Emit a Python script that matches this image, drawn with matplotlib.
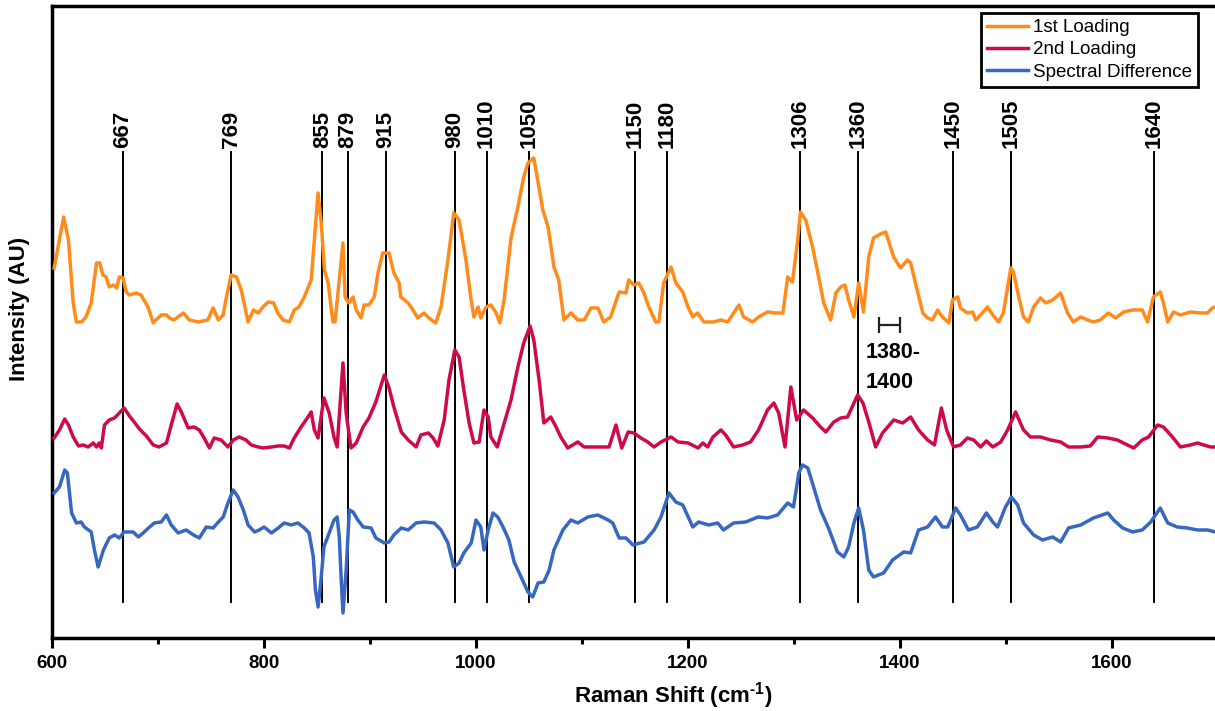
import numpy as np
import matplotlib
matplotlib.use("Agg")
import matplotlib.pyplot as plt
from matplotlib.ticker import MultipleLocator

plt.rcParams['font.family'] = ['Liberation Sans', 'DejaVu Sans']
plt.rcParams['mathtext.fontset'] = 'custom'
plt.rcParams['mathtext.bf'] = 'Liberation Sans:bold'
plt.rcParams['mathtext.rm'] = 'Liberation Sans:bold'

# (Raman shift in cm-1, intensity in a.u. above its own baseline)
first_loading = [
    (602, 54), (611, 105), (615.5, 82), (620, 19), (623, 0), (628, 0), (632, 5), (637, 19),
    (642, 59), (645, 59), (648, 47), (651, 45), (654, 35), (658, 37), (661, 34), (663.5, 45),
    (667, 44), (670, 30), (673, 27), (679.5, 29), (684, 27), (691, 14), (695.5, -1), (698, 2),
    (703, 7), (708, 7), (711, 4), (715, 2), (724, 9), (729.5, 2), (738, 0), (747, 2),
    (752, 14), (757, 2), (761.5, 7), (764, 22), (769, 47), (774, 45), (778.5, 32), (785, 0),
    (790, 12), (794.5, 9), (799, 15), (804, 20), (809, 19), (813, 9), (818, 2), (824, 0),
    (828.5, 12), (833, 15), (838, 25), (844.5, 42), (847.5, 82), (851, 129), (854, 99), (857, 52),
    (860.5, 39), (865, 0), (867, 0), (870, 32), (874.5, 79), (876.5, 25), (880, 19), (884, 25),
    (887, 12), (891.5, 4), (894.5, 17), (899, 17), (904, 25), (907.5, 49), (912, 69), (918, 69),
    (922.5, 49), (927.5, 39), (929, 25), (936, 19), (940.5, 12), (945, 4), (951, 9), (955.5, 4),
    (962, -1), (967, 15), (973.5, 62), (979, 109), (984, 102), (990.5, 62), (995, 25), (998, 5),
    (1002, 15), (1004.5, 4), (1009.5, 15), (1014, 17), (1019, 9), (1022.5, -1), (1026.5, 22),
    (1033, 84), (1039.5, 115), (1045, 145), (1049, 159), (1054.5, 164), (1058.5, 140),
    (1063, 112), (1068, 95), (1073.5, 55), (1078, 42), (1083, 2), (1089.5, 9), (1096, 2),
    (1102, 2), (1108.5, 14), (1115, 14), (1120.5, 0), (1127, 5), (1135, 30), (1141.5, 29),
    (1144, 42), (1149, 37), (1153.5, 39), (1158, 30), (1163, 15), (1169.5, 0), (1172.5, 0),
    (1177, 39), (1184, 55), (1188.5, 39), (1195, 30), (1200, 15), (1204.5, 5), (1209, 9),
    (1215, 0), (1224, 0), (1231, 2), (1237.5, 0), (1243, 9), (1248, 17), (1252.5, 5),
    (1261, 0), (1266.5, 5), (1275, 10), (1282.5, 9), (1289.5, 9), (1294, 45), (1298.5, 40),
    (1303.5, 82), (1306, 110), (1311, 102), (1317.5, 75), (1322.5, 49), (1328, 19),
    (1334.5, 2), (1339.5, 29), (1344, 35), (1348, 37), (1351.5, 22), (1356.5, 5), (1361, 39),
    (1365.5, 10), (1370.5, 65), (1375, 84), (1381.5, 88), (1386.5, 90), (1394, 65),
    (1400.5, 54), (1407, 62), (1410, 59), (1414.5, 39), (1421.5, 9), (1426, 4), (1430.5, 2),
    (1435.5, 12), (1440, 5), (1446, -1), (1449.5, 22), (1454.5, 25), (1457, 14), (1463.5, 9),
    (1468.5, 10), (1471.5, 2), (1476, 7), (1482.5, 15), (1487.5, 7), (1493, 0), (1497.5, 9),
    (1504.5, 54), (1507, 50), (1512, 25), (1516.5, 5), (1521, 0), (1526, 15), (1532.5, 24),
    (1537.5, 19), (1544, 22), (1551.5, 29), (1558, 9), (1563.5, 0), (1570.5, 5), (1577, 2),
    (1582.5, 0), (1589, 2), (1596.5, 9), (1603.5, 4), (1611, 10), (1619.5, 12), (1628.5, 12),
    (1633.5, 0), (1639, 25), (1645.5, 30), (1648.5, 19), (1652.5, 0), (1658, 10), (1664.5, 7),
    (1674, 10), (1683.5, 9), (1690, 9), (1694.5, 14), (1697.5, 15),
]

second_loading = [
    (602, 10), (607, 18), (612, 29), (615.5, 23), (620, 11), (625, 2), (629.5, 3), (634, 1),
    (639, 5), (642, 1), (644.5, 5), (646.5, 0), (649.5, 23), (654, 28), (659, 30), (663.5, 35),
    (668, 40), (673, 32), (677.5, 26), (682.5, 19), (689, 12), (695.5, 3), (701, 1), (708, 5),
    (712.5, 23), (718, 44), (722, 36), (728.5, 20), (734, 21), (739, 18), (743.5, 10),
    (748.5, 0), (753, 10), (759.5, 8), (766, 1), (771, 8), (776.5, 11), (783, 8), (788, 3),
    (794.5, 1), (799, 0), (807, 1), (813.5, 2), (819, 2), (824, 0), (828.5, 10), (835, 21),
    (841.5, 31), (844.5, 36), (847.5, 18), (851, 10), (856.5, 50), (861.5, 35), (866, 11),
    (869, 1), (874.5, 85), (877.5, 35), (882, 0), (887, 5), (893.5, 21), (899, 30), (905.5, 46),
    (913.5, 73), (918, 60), (922.5, 41), (929.5, 16), (936, 8), (943.5, 1), (948, 13),
    (955, 15), (959.5, 10), (964, 2), (970, 28), (974.5, 68), (980, 98), (984, 91), (988.5, 58),
    (993.5, 25), (998, 5), (1003, 6), (1007.5, 38), (1011.5, 31), (1014, 11), (1020, 1),
    (1025.5, 21), (1033, 48), (1039.5, 81), (1045, 105), (1051, 122), (1054.5, 108),
    (1059.5, 68), (1064, 25), (1070.5, 31), (1075.5, 21), (1080, 11), (1086.5, 0), (1096, 6),
    (1102, 1), (1111, 1), (1118, 1), (1125.5, 1), (1132, 23), (1137.5, 0), (1143.5, 16),
    (1149, 15), (1155.5, 10), (1162, 6), (1168, 1), (1174.5, 6), (1184, 11), (1190.5, 6),
    (1200, 5), (1209.5, 0), (1214, 5), (1218.5, 1), (1223.5, 11), (1231, 18), (1235.5, 13),
    (1243, 1), (1251.5, 3), (1259, 6), (1266.5, 18), (1275, 38), (1281, 45), (1285.5, 35),
    (1291.5, 1), (1297, 61), (1302.5, 28), (1309, 38), (1317.5, 30), (1325, 21), (1330, 16),
    (1337.5, 26), (1344, 30), (1350.5, 31), (1360, 53), (1365, 45), (1370.5, 26), (1377, 1),
    (1383.5, 15), (1394, 28), (1402.5, 25), (1410, 31), (1417.5, 18), (1426, 8), (1432.5, 3),
    (1439, 40), (1444, 18), (1450.5, 1), (1457, 3), (1463.5, 10), (1469.5, 8), (1476, 1),
    (1481.5, 7), (1487.5, 1), (1495, 6), (1501.5, 18), (1509, 36), (1516.5, 18), (1523, 11),
    (1532.5, 11), (1542, 8), (1551.5, 6), (1559, 1), (1570.5, 1), (1579.5, 2), (1586.5, 11),
    (1596, 10), (1605, 8), (1614.5, 3), (1620.5, 0), (1628.5, 8), (1634.5, 11), (1643, 23),
    (1648.5, 21), (1657, 11), (1664.5, 1), (1674, 3), (1680.5, 5), (1686.5, 3), (1693, 1),
    (1697.5, 1),
]

spectral_difference = [
    (602, 37), (607, 43), (612, 60), (614.5, 57), (618.5, 17), (623, 7), (627.5, 8),
    (630.5, 3), (637, -2), (640, -20), (643.5, -37), (648.5, -20), (654, -8), (659, -5),
    (663.5, -8), (668, -2), (676.5, -2), (681.5, -7), (686, -3), (691, 2), (696.5, 7), (703, 8),
    (708, 15), (712.5, 5), (719, -3), (726.5, 0), (733.5, -5), (739, -8), (745.5, 3), (752, 2),
    (757, 8), (761.5, 13), (766, 27), (771, 40), (775.5, 33), (780.5, 20), (785, 5),
    (791, -2), (795.5, 0), (800, 3), (807, -3), (813.5, 2), (819, 7), (825.5, 5), (832, 7),
    (838, 2), (842.5, -3), (846.5, -27), (848.5, -60), (851, -77), (854, -47), (856.5, -17),
    (861.5, -3), (866, 10), (869, 13), (871, -7), (873, -53), (874.5, -83), (877.5, -40),
    (880.5, 20), (884, 18), (888.5, 10), (893.5, 3), (901, 2), (905.5, -8), (913.5, -13),
    (918, -12), (922.5, -5), (929.5, 2), (936, 0), (943.5, 7), (951, 8), (960.5, 7), (967, 0),
    (973.5, -13), (979, -37), (984, -33), (988.5, -23), (995.5, -13), (1000, 10), (1004.5, 3),
    (1007.5, -20), (1011.5, 0), (1016, 17), (1020.5, 13), (1025.5, 3), (1031, -10),
    (1036, -32), (1042.5, -47), (1049, -62), (1053.5, -67), (1058.5, -53), (1064, -52),
    (1069, -40), (1073.5, -20), (1082, 0), (1089.5, 10), (1096, 7), (1105.5, 13), (1115, 15),
    (1124.5, 10), (1129, 7), (1135, -8), (1141.5, -8), (1148, -15), (1158.5, -12), (1168, 0),
    (1174.5, 13), (1182, 37), (1188.5, 28), (1195, 25), (1204.5, 3), (1210, 8), (1219.5, 5),
    (1228, 7), (1233.5, 0), (1243, 7), (1254.5, 8), (1266, 13), (1275, 12), (1284.5, 15),
    (1294, 27), (1299.5, 23), (1304.5, 57), (1308, 65), (1313, 62), (1318.5, 43),
    (1325, 20), (1332.5, 2), (1341, -22), (1347, -27), (1351.5, -17), (1356.5, 7), (1361, 22),
    (1365.5, 0), (1370.5, -40), (1375, -47), (1384.5, -43), (1393, -30), (1403.5, -22),
    (1410, -23), (1417.5, 0), (1426, 3), (1433.5, 13), (1440, 3), (1445, 3), (1452.5, 22),
    (1457, 15), (1464.5, 0), (1473, 3), (1481.5, 17), (1487.5, 8), (1492, 3), (1499.5, 23),
    (1505, 33), (1511, 25), (1516.5, 7), (1526, -5), (1534.5, -10), (1544, -7), (1551.5, -12),
    (1559, 2), (1570.5, 5), (1582.5, 12), (1596, 17), (1601.5, 10), (1610, 2), (1619.5, -2),
    (1628.5, 0), (1636.5, 8), (1645.5, 22), (1652.5, 7), (1661.5, 3), (1671, 2), (1680.5, 0),
    (1690, 0), (1697.5, -2),
]

series_names = ["1st Loading", "2nd Loading", "Spectral Difference"]
series_colors = ["#FF8C1A", "#CF0A4C", "#3767C1"]
stack_offsets = [316, 190, 108]

peak_positions = [667, 769, 855, 879, 915, 980, 1010, 1050, 1150, 1180,
                  1306, 1360, 1450, 1505, 1640]
band_range = (1380, 1400)

fig = plt.figure(figsize=(12.15, 7.11), dpi=100)
ax = fig.add_axes([0.0428, 0.1027, 0.9597, 0.8889])

for data, name, color, off in zip([first_loading, second_loading, spectral_difference],
                                  series_names, series_colors, stack_offsets):
    shift, inten = np.array(data).T
    ax.plot(shift, inten + off, color=color, lw=2.5, label=name, zorder=3)

# marker lines for the assigned bands
line_lo, line_hi = 36, 486
for p in peak_positions:
    ax.plot([p, p], [line_lo, line_hi], color="black", lw=1.4, zorder=2)
    ax.text(p, line_hi + 4, str(p), rotation=90, ha="center", va="bottom",
            fontsize=16, fontweight="bold")

# bracket over the broad band
ax.errorbar([(band_range[0] + band_range[1]) / 2], [313],
            xerr=[(band_range[1] - band_range[0]) / 2], color="#222222",
            lw=1.6, capsize=6, capthick=1.6, zorder=4)
ax.text(1368, 296, f"{band_range[0]}-\n{band_range[1]}", ha="left", va="top",
        fontsize=15.5, fontweight="bold", linespacing=1.55)

ax.set_xlim(600, 1700)
ax.set_ylim(0, 632)
ax.xaxis.set_major_locator(MultipleLocator(200))
ax.xaxis.set_minor_locator(MultipleLocator(100))
ax.set_yticks([])
ax.tick_params(axis="x", which="major", direction="out", length=7, width=2.2,
               labelsize=13.5, pad=5)
ax.tick_params(axis="x", which="minor", direction="out", length=4, width=2.2)
for lab in ax.get_xticklabels():
    lab.set_fontweight("bold")
for s in ax.spines.values():
    s.set_linewidth(2.5)

ax.set_xlabel(r"Raman Shift (cm$^{\text{-1}}$)", fontsize=16, fontweight="bold")
ax.xaxis.set_label_coords(0.533, -0.066)
ax.set_ylabel("Intensity (AU)", fontsize=16, fontweight="bold")
ax.yaxis.set_label_coords(-0.019, 0.52)

leg = ax.legend(loc="upper right", bbox_to_anchor=(1198 / 1215, 1 - 13 / 711),
                bbox_transform=fig.transFigure, borderaxespad=0, fontsize=13.5,
                handlelength=2.2, handletextpad=0.25, labelspacing=0.28,
                borderpad=0.32, fancybox=False, framealpha=1)
leg.get_frame().set_edgecolor("black")
leg.get_frame().set_linewidth(2)

fig.savefig("out.png", dpi=100)
